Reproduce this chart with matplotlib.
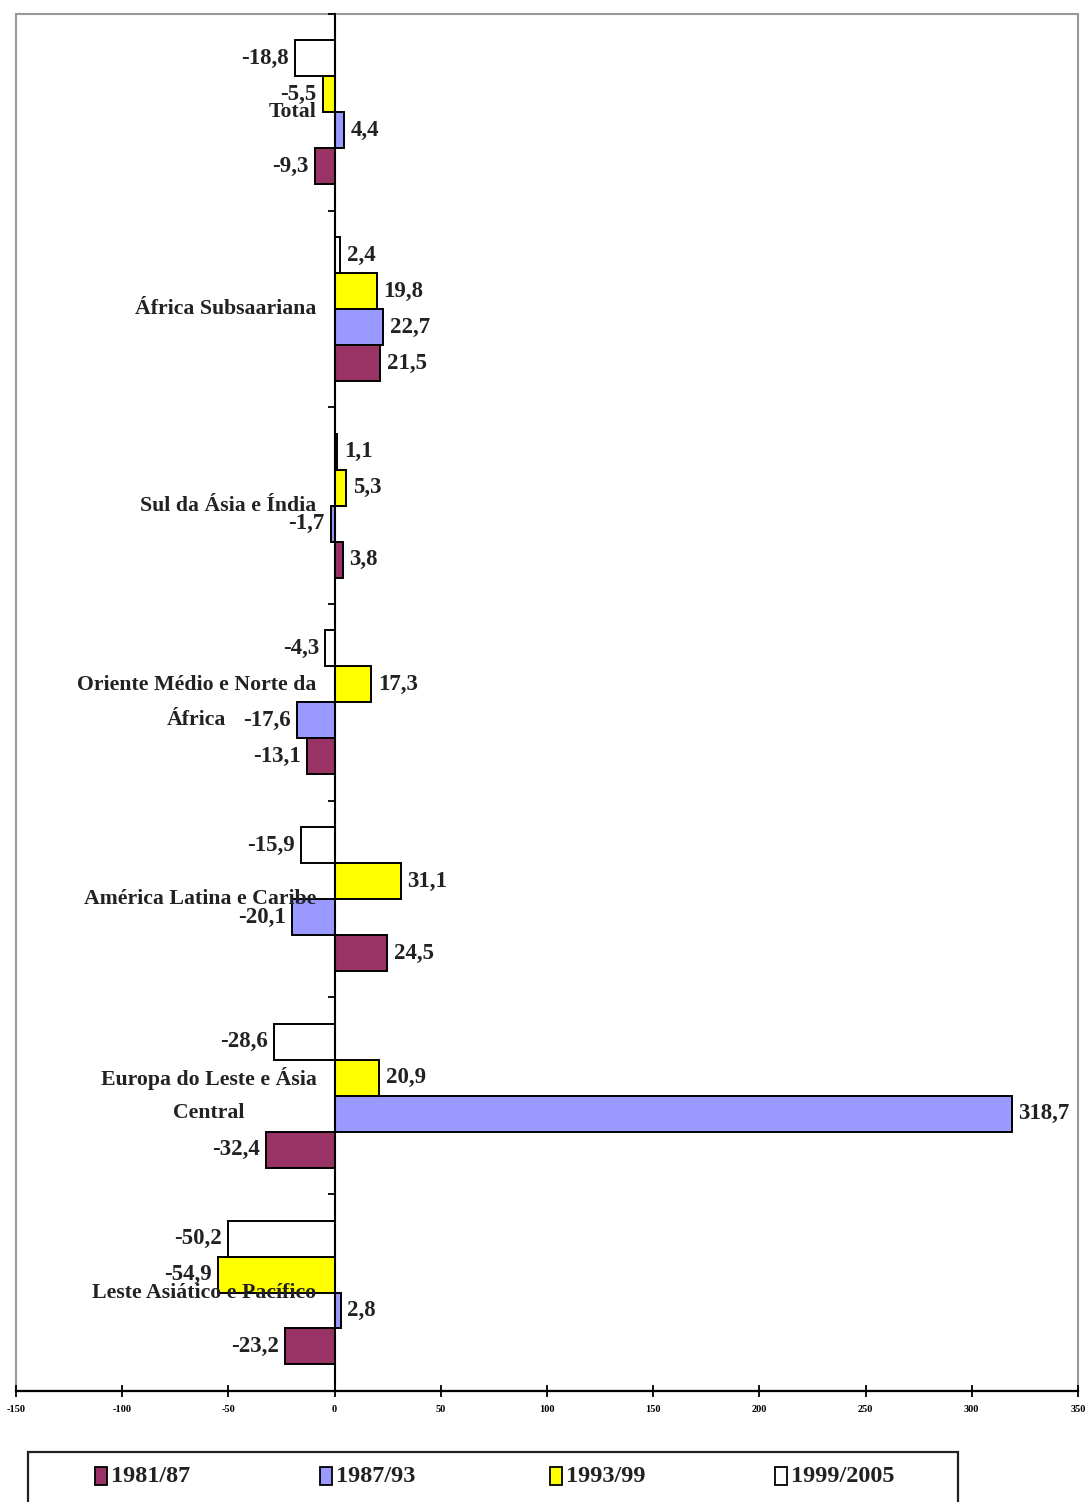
import matplotlib
matplotlib.use("Agg")
import matplotlib.pyplot as plt
from matplotlib.patches import Rectangle
from matplotlib.transforms import offset_copy
import numpy as np

# Regions, top to bottom
regions = [
    "Total",
    "África Subsaariana",
    "Sul da Ásia e Índia",
    "Oriente Médio e Norte da\nÁfrica",
    "América Latina e Caribe",
    "Europa do Leste e Ásia\nCentral",
    "Leste Asiático e Pacífico",
]

# Percentage change per period
v_1981_87 = [-9.3, 21.5, 3.8, -13.1, 24.5, -32.4, -23.2]
v_1987_93 = [4.4, 22.7, -1.7, -17.6, -20.1, 318.7, 2.8]
v_1993_99 = [-5.5, 19.8, 5.3, 17.3, 31.1, 20.9, -54.9]
v_1999_2005 = [-18.8, 2.4, 1.1, -4.3, -15.9, -28.6, -50.2]

periods = ["1981/87", "1987/93", "1993/99", "1999/2005"]
colors = ["#993366", "#9999FF", "#FFFF00", "#FFFFFF"]
x_ticks = [-150, -100, -50, 0, 50, 100, 150, 200, 250, 300, 350]

series = [v_1981_87, v_1987_93, v_1993_99, v_1999_2005]

plt.rcParams["font.family"] = ["Liberation Serif", "DejaVu Serif"]

fig = plt.figure(figsize=(10.88, 15.02), dpi=100)
ax = fig.add_axes([0.0147, 0.0740, 0.9761, 0.9167])

y = np.arange(len(regions))
h = 0.183
# order inside each group, from the top: 1999/2005, 1993/99, 1987/93, 1981/87
stack_pos = {3: -1.5, 2: -0.5, 1: 0.5, 0: 1.5}


def fmt(v):
    return ("%.1f" % v).replace(".", ",")


for k, (vals, col) in enumerate(zip(series, colors)):
    ypos = y + stack_pos[k] * h
    ax.barh(ypos, vals, height=h, color=col, edgecolor="black",
            linewidth=1.4, zorder=3)
    for yy, v in zip(ypos, vals):
        if v >= 0:
            ax.annotate(fmt(v), (v, yy), xytext=(5, 0),
                        textcoords="offset points", ha="left", va="center",
                        fontsize=16.5, fontweight="bold", color="#222222")
        else:
            ax.annotate(fmt(v), (v, yy), xytext=(-4.5, 0),
                        textcoords="offset points", ha="right", va="center",
                        fontsize=16.5, fontweight="bold", color="#222222")

ax.set_xlim(-150, 350)
ax.set_ylim(len(regions) - 0.5, -0.5)

# Region names: the first line is right aligned just left of the zero line,
# a second line is centred under it
label_kw = dict(fontsize=15.7, fontweight="bold", color="#222222", zorder=4)
line_gap = 12.6  # points between the two line centres / 2
fig.canvas.draw()
renderer = fig.canvas.get_renderer()
for yy, name in zip(y, regions):
    lines = name.split("\n")
    if len(lines) == 1:
        ax.text(-8.5, yy, name, ha="right", va="center", **label_kw)
        continue
    tr1 = offset_copy(ax.transData, fig=fig, x=0, y=line_gap, units="points")
    t1 = ax.text(-8.5, yy, lines[0], ha="right", va="center",
                 transform=tr1, **label_kw)
    bb = t1.get_window_extent(renderer)
    xc = ax.transData.inverted().transform(((bb.x0 + bb.x1) / 2, 0))[0]
    tr2 = offset_copy(ax.transData, fig=fig, x=0, y=-line_gap, units="points")
    ax.text(xc, yy, lines[1], ha="center", va="center",
            transform=tr2, **label_kw)

# Vertical axis on the zero line with ticks between groups
ax.spines["left"].set_position(("data", 0))
ax.spines["left"].set_linewidth(1.5)
ax.spines["left"].set_zorder(5)
ax.set_yticks(np.arange(-0.5, len(regions) + 0.5, 1.0))
ax.set_yticklabels([])
ax.tick_params(axis="y", direction="out", length=5, width=1.3)

ax.spines["bottom"].set_linewidth(1.6)
ax.set_xticks(x_ticks)
ax.set_xticklabels([str(t) for t in x_ticks])
ax.tick_params(axis="x", direction="inout", length=9, width=1.3,
               labelsize=7.5, pad=6)
for lab in ax.get_xticklabels():
    lab.set_fontweight("bold")

ax.spines["top"].set_visible(False)
ax.spines["right"].set_visible(False)
ax.add_patch(Rectangle((0, 0), 1, 1, transform=ax.transAxes, fill=False,
                       edgecolor="#999999", linewidth=1.5, clip_on=False,
                       zorder=1))

# Legend box along the bottom edge
W, H = 1088.0, 1502.0
fig.patches.append(Rectangle((28 / W, -0.01), (958 - 28) / W, 0.01 + (H - 1452) / H,
                             transform=fig.transFigure, fill=False,
                             edgecolor="#222222", linewidth=1.6))
leg_x = [95, 320, 550, 775]
for px, lab, col in zip(leg_x, periods, colors):
    fig.patches.append(Rectangle((px / W, (H - 1485) / H), 12 / W, 18 / H,
                                 transform=fig.transFigure, facecolor=col,
                                 edgecolor="black", linewidth=1.3))
    fig.text((px + 16) / W, (H - 1476) / H, lab, ha="left", va="center",
             fontsize=17.5, fontweight="bold", color="#222222")

fig.savefig("out.png", dpi=100)
